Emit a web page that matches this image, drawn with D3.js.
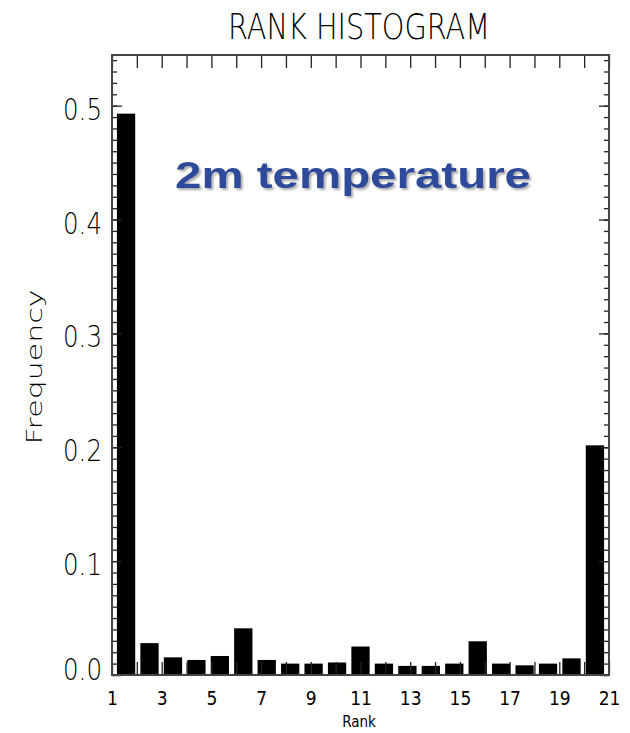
<!DOCTYPE html>
<html>
<head>
<meta charset="utf-8">
<script src="https://cdn.jsdelivr.net/npm/d3@7"></script>
<style>
  body { margin: 0; background: #fff; }
  .thin { font-family: "DejaVu Sans", sans-serif; font-weight: 200; fill: #000; }
  .small { font-family: "DejaVu Sans Condensed", "DejaVu Sans", sans-serif; font-weight: normal; fill: #000; }
</style>
</head>
<body>
<div id="chart"></div>
<script>
var width = 630;
var height = 733;

// ranks 1..21, frequency
var ranks = d3.range(1, 22);
var freq = [0.493, 0.028, 0.0155, 0.0132, 0.0167, 0.041, 0.0132, 0.010, 0.010, 0.011,
            0.025, 0.010, 0.008, 0.008, 0.010, 0.0296, 0.010, 0.0085, 0.010, 0.0146, 0.2017];
var xTickVals = d3.range(1, 22);
var yMajor = [0, 0.1, 0.2, 0.3, 0.4, 0.5];
var yMinor = d3.range(0, 55).map(function(i) { return i / 100; });

// note: "top" is taken by window.top, so plot edges get their own names
var pLeft = 112, pRight = 609, pTop = 55, pBottom = 675;

var svg = d3.select("#chart")
    .append("svg")
    .attr("width", width)
    .attr("height", height);

var defs = svg.append("defs");
defs.append("filter")
    .attr("id", "shadow")
    .attr("x", "-5%").attr("y", "-20%").attr("width", "110%").attr("height", "140%")
  .append("feDropShadow")
    .attr("dx", 2).attr("dy", 2)
    .attr("stdDeviation", 1.2)
    .attr("flood-color", "#888")
    .attr("flood-opacity", 0.7);

var x = d3.scaleLinear().domain([1, 21]).range([pLeft, pRight]);
var xb = d3.scaleBand().domain(ranks).range([pLeft, pRight])
    .paddingInner(0.22).paddingOuter(0.21);
var y = d3.scaleLinear().domain([0, 0.5445]).range([pBottom, pTop]);

// bars
svg.append("g").selectAll("rect")
    .data(ranks)
  .enter().append("rect")
    .attr("x", function(d) { return xb(d); })
    .attr("width", xb.bandwidth())
    .attr("y", function(d, i) { return y(freq[i]); })
    .attr("height", function(d, i) { return pBottom - y(freq[i]); })
    .attr("fill", "#000");

function styleAxis(g) {
  g.select(".domain").remove();
  g.selectAll(".tick line").attr("stroke", "#222").attr("stroke-width", 1.3);
}

// y axes (minor + major, both sides)
svg.append("g").attr("transform", "translate(" + pLeft + ",0)")
    .call(d3.axisLeft(y).tickValues(yMinor).tickSize(-5).tickFormat(""))
    .call(styleAxis);
svg.append("g").attr("transform", "translate(" + pRight + ",0)")
    .call(d3.axisRight(y).tickValues(yMinor).tickSize(-5).tickFormat(""))
    .call(styleAxis);
svg.append("g").attr("transform", "translate(" + pRight + ",0)")
    .call(d3.axisRight(y).tickValues(yMajor).tickSize(-10).tickFormat(""))
    .call(styleAxis);
var yAx = svg.append("g").attr("transform", "translate(" + pLeft + ",0)")
    .call(d3.axisLeft(y).tickValues(yMajor).tickSize(-10).tickPadding(10).tickFormat(d3.format(".1f")))
    .call(styleAxis);
yAx.selectAll("text")
    .attr("class", "thin")
    .attr("fill", "#000")
    .attr("font-size", 30)
    .attr("textLength", 39)
    .attr("lengthAdjust", "spacingAndGlyphs")
    .attr("dy", function(d) { return d === 0 ? "0.15em" : "0.45em"; });

// x axes
var xAx = svg.append("g").attr("transform", "translate(0," + pBottom + ")")
    .call(d3.axisBottom(x).tickValues(xTickVals).tickSize(-13).tickPadding(17)
      .tickFormat(function(d) { return d % 2 ? d : ""; }))
    .call(styleAxis);
xAx.selectAll("text")
    .attr("class", "small")
    .attr("fill", "#000")
    .attr("font-size", 19);
svg.append("g").attr("transform", "translate(0," + pTop + ")")
    .call(d3.axisTop(x).tickValues(xTickVals).tickSize(-13).tickFormat(""))
    .call(styleAxis);

// frame
svg.append("rect")
    .attr("x", pLeft).attr("y", pTop)
    .attr("width", pRight - pLeft).attr("height", pBottom - pTop)
    .attr("fill", "none")
    .attr("stroke", "#444")
    .attr("stroke-width", 2);

// titles
svg.append("text")
    .attr("class", "thin")
    .attr("x", 359).attr("y", 39)
    .attr("text-anchor", "middle")
    .attr("font-size", 36)
    .attr("textLength", 262)
    .attr("lengthAdjust", "spacingAndGlyphs")
    .text("RANK HISTOGRAM");

svg.append("text")
    .attr("class", "small")
    .attr("x", 359).attr("y", 727)
    .attr("text-anchor", "middle")
    .attr("font-size", 15)
    .text("Rank");

svg.append("text")
    .attr("class", "thin")
    .attr("transform", "translate(42,367) rotate(-90)")
    .attr("text-anchor", "middle")
    .attr("font-size", 22)
    .attr("textLength", 155)
    .attr("lengthAdjust", "spacingAndGlyphs")
    .text("Frequency");

// label inside the plot
svg.append("text")
    .attr("x", 175).attr("y", 187.5)
    .attr("font-family", "'Liberation Sans', Arial, sans-serif")
    .attr("font-weight", "bold")
    .attr("font-size", 37.5)
    .attr("textLength", 356)
    .attr("lengthAdjust", "spacingAndGlyphs")
    .attr("fill", "#2d4b9b")
    .attr("filter", "url(#shadow)")
    .text("2m temperature");
</script>
</body>
</html>
